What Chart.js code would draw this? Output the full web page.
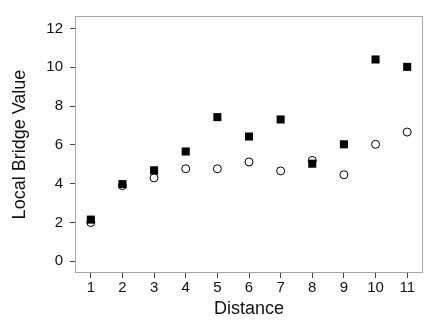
<!DOCTYPE html>
<html>
<head>
<meta charset="utf-8">
<script src="https://cdn.jsdelivr.net/npm/chart.js@4"></script>
<style>
  html, body { margin: 0; padding: 0; background: #fff; }
  #wrap { width: 436px; height: 327px; }
</style>
</head>
<body>
<div id="wrap"><canvas id="chart"></canvas></div>
<script>
// values
const distances = [1, 2, 3, 4, 5, 6, 7, 8, 9, 10, 11];
const filled_vals = [2.15, 3.98, 4.69, 5.66, 7.43, 6.43, 7.31, 5.03, 6.03, 10.4, 10.02];
const open_vals = [2.0, 3.9, 4.3, 4.77, 4.77, 5.12, 4.66, 5.2, 4.46, 6.03, 6.66];
const y_ticks = [0, 2, 4, 6, 8, 10, 12];

const font_family = '"Liberation Sans", Arial, Helvetica, sans-serif';

function to_points(xs, ys) {
    return xs.map((x, i) => ({ x: x, y: ys[i] }));
}

// grey frame round the plot area
const frame_plugin = {
    id: 'frame',
    afterDraw(chart) {
        const a = chart.chartArea;
        const ctx = chart.ctx;
        ctx.save();
        ctx.strokeStyle = '#a6a6a6';
        ctx.lineWidth = 1;
        ctx.strokeRect(a.left + 0.5, a.top + 0.5, a.right - a.left - 1, a.bottom - a.top - 1);
        ctx.restore();
    }
};

const config = {
    type: 'scatter',
    data: {
        datasets: [{
            label: 'filled',
            data: to_points(distances, filled_vals),
            pointStyle: 'rect',
            pointRadius: 5.7,
            pointHoverRadius: 5.7,
            backgroundColor: '#000',
            borderColor: '#000',
            borderWidth: 0,
        }, {
            label: 'open',
            data: to_points(distances, open_vals),
            pointStyle: 'circle',
            pointRadius: 4,
            pointHoverRadius: 4,
            backgroundColor: 'rgba(255,255,255,0)',
            borderColor: '#000',
            borderWidth: 1,
        }]
    },
    options: {
        responsive: false,
        animation: false,
        layout: { padding: { left: 0, top: 4, right: 13, bottom: 0 } },
        plugins: {
            legend: { display: false },
            tooltip: { enabled: false }
        },
        scales: {
            x: {
                type: 'linear',
                min: 0.5,
                max: 11.5,
                afterFit(scale) { scale.height = 54; },
                afterBuildTicks(scale) {
                    scale.ticks = distances.map(v => ({ value: v }));
                },
                border: { display: false },
                grid: { drawOnChartArea: false, drawTicks: true, tickLength: 5, color: '#444' },
                ticks: {
                    color: '#111',
                    padding: 1,
                    maxRotation: 0,
                    autoSkip: false,
                    font: { family: font_family, size: 15 }
                },
                title: {
                    display: true,
                    text: 'Distance',
                    color: '#111',
                    padding: { top: 0, bottom: 7 },
                    font: { family: font_family, size: 18 }
                }
            },
            y: {
                min: -0.6,
                max: 12.64,
                afterFit(scale) { scale.width = 75; },
                afterBuildTicks(scale) {
                    scale.ticks = y_ticks.map(v => ({ value: v }));
                },
                border: { display: false },
                grid: { drawOnChartArea: false, drawTicks: true, tickLength: 5, color: '#444' },
                ticks: {
                    color: '#111',
                    padding: 7,
                    font: { family: font_family, size: 15 }
                },
                title: {
                    display: true,
                    text: 'Local Bridge Value',
                    color: '#111',
                    padding: { top: 9, bottom: 0 },
                    font: { family: font_family, size: 18 }
                }
            }
        }
    },
    plugins: [frame_plugin]
};

const ctx = document.getElementById('chart');
ctx.width = 436;
ctx.height = 327;
const chart = new Chart(ctx, config);
</script>
</body>
</html>
